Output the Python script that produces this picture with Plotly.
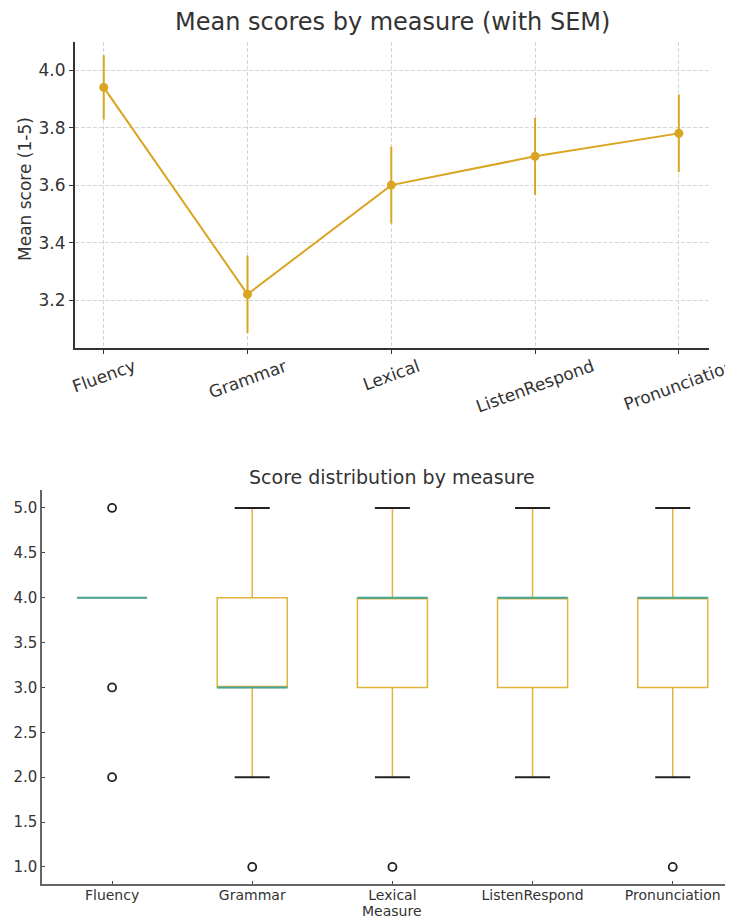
import plotly.graph_objects as go

# ---------------- data ----------------
measures = ["Fluency", "Grammar", "Lexical", "ListenRespond", "Pronunciation"]
mean_scores = [3.94, 3.22, 3.60, 3.70, 3.78]
sem_values = [0.112, 0.135, 0.134, 0.134, 0.135]

box_q1 = [4, 3, 3, 3, 3]
box_median = [4, 3, 4, 4, 4]
box_q3 = [4, 4, 4, 4, 4]
whisker_low = [4, 2, 2, 2, 2]
whisker_high = [4, 5, 5, 5, 5]
fliers = [[5, 3, 2], [1], [1], [], [1]]

top_yticks = [3.2, 3.4, 3.6, 3.8, 4.0]
bottom_yticks = [1.0, 1.5, 2.0, 2.5, 3.0, 3.5, 4.0, 4.5, 5.0]

# ---------------- style / layout helpers ----------------
OFF = 8                      # page body margin
W, H = 733 - OFF, 920 - OFF  # figure size that fills the window


def px(x):
    return (x - OFF) / W


def py(y):
    return 1 - (y - OFF) / H


FONT = "DejaVu Sans"
TXT = "#333333"
GOLD = "#DAA520"
BOX_EDGE = "#E0B43C"
TEAL = "#45A39A"
GRID = "#d6d6d6"
BOX_W = 0.5
CAP_W = 0.25

positions = list(range(len(measures)))

fig = go.Figure()

# ---- top: mean with SEM ----
fig.add_trace(go.Scatter(
    x=measures, y=mean_scores, mode="lines+markers",
    line=dict(color=GOLD, width=2),
    marker=dict(color=GOLD, size=9),
    error_y=dict(type="data", array=sem_values, visible=True,
                 color=GOLD, thickness=2, width=0),
    xaxis="x", yaxis="y", showlegend=False, hoverinfo="skip"))

# ---- bottom: boxplot ----
fig.add_trace(go.Box(
    x=positions, q1=box_q1, median=box_median, q3=box_q3,
    lowerfence=whisker_low, upperfence=whisker_high,
    width=BOX_W, whiskerwidth=0, boxpoints=False,
    line=dict(color=BOX_EDGE, width=1.5), fillcolor="rgba(0,0,0,0)",
    xaxis="x2", yaxis="y2", showlegend=False, hoverinfo="skip"))

# medians
mx, my = [], []
for p, m in zip(positions, box_median):
    mx += [p - BOX_W / 2, p + BOX_W / 2, None]
    my += [m, m, None]
fig.add_trace(go.Scatter(x=mx, y=my, mode="lines",
                         line=dict(color=TEAL, width=2),
                         xaxis="x2", yaxis="y2", showlegend=False, hoverinfo="skip"))

# caps
cx, cy = [], []
for p, lo, hi in zip(positions, whisker_low, whisker_high):
    if lo == hi:
        continue
    for v in (lo, hi):
        cx += [p - CAP_W / 2, p + CAP_W / 2, None]
        cy += [v, v, None]
fig.add_trace(go.Scatter(x=cx, y=cy, mode="lines",
                         line=dict(color="#222222", width=2),
                         xaxis="x2", yaxis="y2", showlegend=False, hoverinfo="skip"))

# fliers
fx, fy = [], []
for p, fl in zip(positions, fliers):
    for v in fl:
        fx.append(p)
        fy.append(v)
fig.add_trace(go.Scatter(x=fx, y=fy, mode="markers",
                         marker=dict(symbol="circle-open", size=8, color="#222222",
                                     line=dict(width=1.8)),
                         xaxis="x2", yaxis="y2", showlegend=False, hoverinfo="skip"))

# ---- annotations ----
annotations = [
    dict(text="Mean scores by measure (with SEM)", x=px(392), y=py(22),
         xref="paper", yref="paper", showarrow=False,
         font=dict(family=FONT, size=24, color=TXT), xanchor="center", yanchor="middle"),
    dict(text="Score distribution by measure", x=px(392), y=py(477),
         xref="paper", yref="paper", showarrow=False,
         font=dict(family=FONT, size=19, color=TXT), xanchor="center", yanchor="middle"),
    dict(text="Mean score (1-5)", x=px(25), y=py(189), textangle=-90,
         xref="paper", yref="paper", showarrow=False,
         font=dict(family=FONT, size=17, color=TXT), xanchor="center", yanchor="middle"),
    dict(text="Measure", x=px(392), y=py(911),
         xref="paper", yref="paper", showarrow=False,
         font=dict(family=FONT, size=14, color=TXT), xanchor="center", yanchor="middle"),
]
for m in measures:
    annotations.append(dict(
        text=m, x=m, xref="x", y=py(353), yref="paper", textangle=-20,
        showarrow=False, xanchor="center", yanchor="top",
        font=dict(family=FONT, size=17, color=TXT)))

fig.update_layout(
    width=W, height=H, margin=dict(l=0, r=0, t=0, b=0),
    paper_bgcolor="white", plot_bgcolor="white",
    font=dict(family=FONT, color=TXT),
    annotations=annotations,
    xaxis=dict(domain=[px(75), px(709)], anchor="y", type="category",
               range=[-0.2, 4.21], showticklabels=False,
               showgrid=True, gridcolor=GRID, griddash="4px,2px", gridwidth=0.8,
               showline=True, linecolor="#333333", linewidth=2,
               ticks="outside", ticklen=4, tickcolor="#333333", zeroline=False),
    yaxis=dict(domain=[py(348), py(42)], anchor="x",
               range=[3.033, 4.098], tickvals=top_yticks,
               ticktext=[f"{v:.1f}" for v in top_yticks],
               tickfont=dict(family=FONT, size=17, color=TXT),
               showgrid=True, gridcolor=GRID, griddash="4px,2px", gridwidth=0.8,
               showline=True, linecolor="#333333", linewidth=2,
               ticks="outside", ticklen=4, tickcolor="#333333", zeroline=False),
    xaxis2=dict(domain=[px(42), 1.0], anchor="y2",
                range=[-0.5, 4.43], tickvals=positions, ticktext=measures,
                tickfont=dict(family=FONT, size=14, color=TXT),
                ticklabelstandoff=-3,
                showgrid=False, zeroline=False,
                showline=True, linecolor="#666666", linewidth=1.5,
                ticks="inside", ticklen=3, tickcolor="#444444"),
    yaxis2=dict(domain=[py(884), py(490)], anchor="x2",
                range=[0.81, 5.2], tickvals=bottom_yticks,
                ticktext=[f"{v:.1f}" for v in bottom_yticks],
                tickfont=dict(family=FONT, size=15, color=TXT),
                showgrid=False, zeroline=False,
                showline=True, linecolor="#666666", linewidth=1.5,
                ticks="inside", ticklen=3, tickcolor="#444444"),
)

fig.write_html("out.html")
